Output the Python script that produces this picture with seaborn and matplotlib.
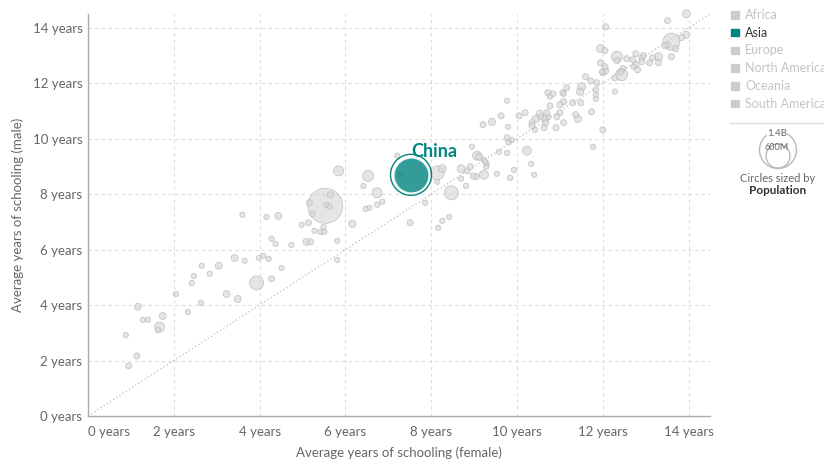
import numpy as np
import pandas as pd
import seaborn as sns
import matplotlib.pyplot as plt
from matplotlib.patches import Circle, Rectangle

# Datos: años medios de escolaridad (mujeres, hombres) y población (millones)
female_years = [
    0.95, 1.14, 0.88, 1.16, 1.28, 1.40, 1.67, 1.63, 1.74, 2.05, 2.33, 2.42, 2.47, 2.63, 2.65,
    2.84, 3.05, 3.23, 3.42, 3.49, 3.65, 3.93, 3.98, 4.09, 4.21, 4.28, 4.37, 4.28, 4.51, 4.74,
    3.60, 4.16, 4.44, 5.53, 5.65, 5.16, 5.56, 5.63, 5.23, 6.16, 4.98, 5.14, 5.49, 5.28, 5.42,
    5.51, 5.09, 5.19, 5.81, 5.81, 5.84, 6.53, 6.74, 6.42, 6.47, 6.56, 6.74, 6.86, 7.28, 7.21,
    8.14, 8.26, 7.86, 7.51, 8.26, 8.42, 8.16, 8.47, 8.14, 9.07, 8.70, 8.84, 8.91, 8.98, 9.05,
    9.23, 9.23, 9.30, 8.95, 8.70, 8.81, 9.53, 9.58, 9.77, 9.84, 9.93, 10.23, 10.33, 10.40, 9.77,
    9.81, 9.88, 9.79, 9.21, 9.42, 9.63, 9.77, 10.05, 10.19, 10.35, 10.35, 10.42, 10.44, 10.53, 10.56,
    10.65, 10.67, 10.72, 10.70, 10.63, 10.77, 10.93, 10.91, 11.00, 11.00, 11.09, 11.09, 11.37, 11.42, 11.30,
    11.49, 11.47, 11.51, 11.16, 11.07, 10.72, 10.84, 10.77, 11.09, 11.60, 11.72, 11.86, 11.84, 11.84, 11.84,
    11.74, 12.00, 11.77, 12.28, 12.28, 11.95, 12.00, 12.07, 12.05, 11.98, 12.44, 12.42, 12.47, 12.77, 12.81,
    12.72, 12.33, 12.33, 11.95, 12.05, 12.56, 12.70, 12.91, 12.95, 12.91, 12.77, 13.16, 13.30, 13.30, 13.09,
    13.60, 13.60, 13.44, 13.51, 13.70, 13.84, 13.95, 13.51, 13.95, 12.07, 9.12, 9.28, 9.26,
]
male_years = [
    1.81, 2.17, 2.92, 3.94, 3.47, 3.47, 3.21, 3.10, 3.61, 4.40, 3.75, 4.80, 5.05, 4.08, 5.42,
    5.13, 5.42, 4.40, 5.70, 4.22, 5.60, 4.80, 5.70, 5.78, 5.67, 6.39, 6.21, 4.95, 5.34, 6.17,
    7.26, 7.18, 7.22, 7.58, 7.98, 7.69, 7.62, 7.55, 7.29, 6.93, 6.90, 6.97, 6.82, 6.68, 6.64,
    6.64, 6.28, 6.28, 6.32, 5.63, 8.84, 8.66, 8.05, 8.30, 7.47, 7.51, 7.62, 7.73, 8.70, 9.39,
    8.77, 8.92, 7.69, 6.97, 7.04, 7.18, 6.79, 8.05, 8.45, 9.39, 8.92, 8.84, 8.99, 8.66, 8.63,
    8.70, 9.24, 9.10, 9.71, 8.56, 8.30, 8.74, 9.53, 9.49, 8.59, 8.88, 9.57, 9.10, 8.70, 10.04,
    9.89, 9.96, 10.43, 10.51, 10.61, 10.83, 11.37, 10.83, 10.94, 10.58, 10.47, 10.32, 10.72, 10.90, 10.79,
    10.72, 10.58, 10.79, 10.94, 10.40, 11.19, 10.79, 10.40, 10.94, 11.23, 11.34, 10.58, 10.87, 10.72, 11.30,
    11.30, 11.70, 11.88, 11.84, 11.66, 11.66, 11.62, 11.52, 11.62, 12.24, 12.09, 12.02, 11.77, 11.59, 11.44,
    10.97, 10.32, 9.71, 11.70, 12.20, 12.74, 12.38, 12.45, 12.60, 12.42, 12.31, 12.42, 12.53, 12.67, 12.49,
    12.60, 12.96, 12.82, 13.25, 13.18, 12.89, 12.85, 12.78, 13.00, 12.92, 13.07, 12.92, 12.96, 12.74, 12.74,
    12.96, 13.50, 13.36, 13.39, 13.25, 13.65, 13.75, 14.26, 14.51, 14.04, 9.35, 8.99, 9.17,
]
population_m = [
    42, 42, 32, 55, 32, 32, 114, 32, 55, 32, 32, 32, 32, 32, 32,
    32, 55, 55, 55, 55, 32, 224, 32, 32, 32, 32, 32, 42, 32, 32,
    32, 32, 55, 1480, 42, 42, 32, 32, 32, 60, 32, 42, 32, 32, 32,
    32, 55, 42, 32, 32, 114, 138, 114, 32, 32, 32, 32, 32, 32, 32,
    224, 73, 32, 42, 32, 32, 32, 224, 32, 92, 73, 42, 42, 42, 42,
    92, 32, 32, 32, 32, 32, 32, 32, 32, 32, 32, 92, 32, 32, 42,
    42, 32, 32, 42, 60, 42, 32, 42, 42, 42, 42, 32, 60, 60, 42,
    42, 42, 42, 42, 42, 42, 42, 42, 42, 42, 42, 42, 42, 60, 42,
    42, 60, 73, 42, 42, 42, 42, 32, 32, 42, 42, 42, 32, 32, 32,
    42, 42, 32, 32, 42, 42, 42, 42, 42, 32, 164, 42, 42, 42, 42,
    32, 138, 42, 73, 42, 42, 42, 42, 42, 42, 42, 42, 73, 42, 42,
    42, 330, 42, 42, 42, 42, 55, 42, 73, 42, 55, 32, 32,
]

china_female = 7.53
china_male = 8.70
china_pop = 1400

regions = ['Africa', 'Asia', 'Europe', 'North America', 'Oceania', 'South America']
tick_years = [0, 2, 4, 6, 8, 10, 12, 14]

ASIA = '#00847e'
GRIS_TEXTO = '#666666'

sns.set_theme(style='white')
plt.rcParams['font.family'] = ['Lato', 'DejaVu Sans']

fig = plt.figure(figsize=(8.24, 4.63), dpi=100)
ax = fig.add_axes([88 / 824, 1 - 416 / 463, 622 / 824, 402 / 463])

df = pd.DataFrame({'female': female_years, 'male': male_years, 'pop': population_m})
df = df.sort_values('pop', ascending=False)
size_kw = dict(size='pop', size_norm=(0, 1400), sizes=(0, 635), legend=False)

# línea de paridad
ax.plot([0, 14.5], [0, 14.5], ls=(0, (1, 2)), color='#bbbbbb', lw=0.9, zorder=1)

sns.scatterplot(data=df, x='female', y='male', color='#dadada', alpha=0.7,
                edgecolor='#b4b4b4', linewidth=0.6, ax=ax, zorder=3, clip_on=False,
                **size_kw)

china = pd.DataFrame({'female': [china_female], 'male': [china_male], 'pop': [china_pop]})
sns.scatterplot(data=china, x='female', y='male', color=ASIA, alpha=0.8,
                edgecolor='white', linewidth=1.0, ax=ax, zorder=5, **size_kw)
ax.scatter([china_female], [china_male], s=(2 * 20.5 * 0.72) ** 2, facecolors='none',
           edgecolors=ASIA, linewidths=1.0, zorder=5)
ax.annotate('China', xy=(china_female, china_male), xytext=(0, 13),
            textcoords='offset points', ha='left', va='baseline',
            fontsize=13, fontweight='bold', color=ASIA, zorder=6)

ax.set_xlim(0, 14.5)
ax.set_ylim(0, 14.5)
ax.set_xticks(tick_years)
ax.set_yticks(tick_years)
ax.set_xticklabels([f'{t} years' for t in tick_years])
ax.set_yticklabels([f'{t} years' for t in tick_years])
ax.get_xticklabels()[0].set_ha('left')
ax.tick_params(axis='both', length=0, labelsize=9.5, labelcolor=GRIS_TEXTO)
ax.tick_params(axis='x', pad=7)
ax.tick_params(axis='y', pad=4)
ax.grid(True, ls=(0, (3, 3)), color='#dddddd', lw=0.8)
ax.set_axisbelow(True)
for lado in ['top', 'right']:
    ax.spines[lado].set_visible(False)
for lado in ['left', 'bottom']:
    ax.spines[lado].set_color('#aaaaaa')
    ax.spines[lado].set_linewidth(1)
ax.set_xlabel('Average years of schooling (female)', fontsize=9.5, color=GRIS_TEXTO, labelpad=6)
ax.set_ylabel('Average years of schooling (male)', fontsize=9.5, color=GRIS_TEXTO, labelpad=6)

# leyenda a la derecha, en coordenadas de píxel
lax = fig.add_axes([0, 0, 1, 1], facecolor='none')
lax.set_xlim(0, 824)
lax.set_ylim(463, 0)
lax.axis('off')
for i, region in enumerate(regions):
    y = 15 + 17.7 * i
    activo = region == 'Asia'
    lax.add_patch(Rectangle((731.5, y - 3.75), 7.5, 7.5,
                            color=ASIA if activo else '#cccccc'))
    lax.text(745, y, region, va='center', ha='left', fontsize=9,
             color='#333333' if activo else '#c4c4c4')
lax.plot([730, 824], [122.7, 122.7], color='#dddddd', lw=1)
lax.add_patch(Circle((778, 150), 18.5, fill=False, ec='#bbbbbb', lw=1))
lax.add_patch(Circle((778, 156), 12, fill=False, ec='#bbbbbb', lw=1))
lax.text(777, 134, '1.4B', ha='center', va='center', fontsize=7, color=GRIS_TEXTO,
         bbox=dict(fc='white', ec='none', pad=0.3))
lax.text(777, 147, '600M', ha='center', va='center', fontsize=6.5, color=GRIS_TEXTO)
lax.text(778, 178, 'Circles sized by', ha='center', va='center', fontsize=8, color=GRIS_TEXTO)
lax.text(778, 191, 'Population', ha='center', va='center', fontsize=8.5,
         fontweight='bold', color='#333333')

fig.savefig('out.png', dpi=100)
plt.close(fig)
